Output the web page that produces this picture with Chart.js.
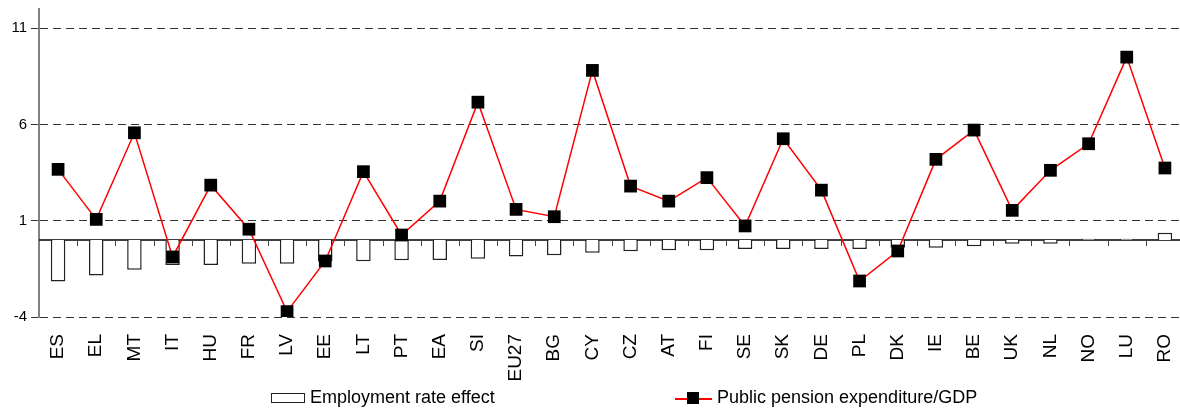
<!DOCTYPE html>
<html>
<head>
<meta charset="utf-8">
<script src="https://cdn.jsdelivr.net/npm/chart.js@4"></script>
<style>
  html, body { margin: 0; padding: 0; background: #fff; overflow: hidden; }
  #wrap { position: relative; width: 1193px; height: 409px; }
  #legend { position: absolute; left: 0; top: 0; width: 1180px; height: 409px; pointer-events: none;
            font-family: 'Liberation Sans', Arial, sans-serif; font-size: 18px; color: #000; }
  .lg { position: absolute; }
</style>
</head>
<body>
<div id="wrap">
  <canvas id="chart"></canvas>
  <div id="legend">
    <div class="lg" style="left:271px; top:393px; width:32px; height:8px; border:1px solid #222; background:#fff;"></div>
    <div class="lg" style="left:310px; top:387px;">Employment rate effect</div>
    <div class="lg" style="left:675px; top:398px; width:37px; height:1.5px; background:#ff0000;"></div>
    <div class="lg" style="left:687px; top:392px; width:12px; height:12px; background:#000;"></div>
    <div class="lg" style="left:717px; top:387px;">Public pension expenditure/GDP</div>
  </div>
</div>
<script>
// Country codes along the x axis
const categories = ['ES', 'EL', 'MT', 'IT', 'HU', 'FR', 'LV', 'EE', 'LT', 'PT', 'EA', 'SI', 'EU27', 'BG', 'CY',
                    'CZ', 'AT', 'FI', 'SE', 'SK', 'DE', 'PL', 'DK', 'IE', 'BE', 'UK', 'NL', 'NO', 'LU', 'RO'];

// Employment rate effect (bars)
const employmentEffect = [-2.16, -1.85, -1.54, -1.3, -1.3, -1.23, -1.23, -1.12, -1.1, -1.05, -1.04, -0.97, -0.86, -0.79, -0.66,
                          -0.59, -0.53, -0.53, -0.47, -0.47, -0.47, -0.47, -0.4, -0.4, -0.33, -0.2, -0.2, 0.06, 0.06, 0.38];

// Public pension expenditure/GDP (line with markers)
const pensionExpenditure = [3.67, 1.07, 5.57, -0.88, 2.85, 0.56, -3.72, -1.09, 3.55, 0.26, 2.02, 7.16, 1.59, 1.21, 8.81,
                            2.8, 2.02, 3.24, 0.73, 5.26, 2.59, -2.13, -0.57, 4.19, 5.71, 1.54, 3.62, 5.0, 9.5, 3.74];

// Y axis tick labels
const yTicks = [-4, 1, 6, 11];

const fontFamily = "'Liberation Sans', Arial, sans-serif";

// Draws the solid zero line and the small category ticks hanging from it
const zeroAxis = {
    id: 'zeroAxis',
    beforeDatasetsDraw(chart) {
        const ctx = chart.ctx;
        const x = chart.scales.x;
        const y0 = chart.scales.y.getPixelForValue(0);
        const area = chart.chartArea;
        ctx.save();
        ctx.strokeStyle = '#000';
        ctx.lineWidth = 1.5;
        ctx.beginPath();
        ctx.moveTo(area.left, y0);
        ctx.lineTo(area.right, y0);
        ctx.stroke();
        ctx.strokeStyle = '#444';
        ctx.lineWidth = 1;
        const half = (x.getPixelForValue(1) - x.getPixelForValue(0)) / 2;
        for (let i = 0; i < categories.length - 1; i++) {
            const px = Math.round(x.getPixelForValue(i) + half) + 0.5;
            ctx.beginPath();
            ctx.moveTo(px, y0);
            ctx.lineTo(px, y0 + 6);
            ctx.stroke();
        }
        ctx.restore();
    }
};

const ctx = document.getElementById('chart').getContext('2d');
new Chart(ctx, {
    type: 'bar',
    data: {
        labels: categories,
        datasets: [
            {
                type: 'line',
                label: 'Public pension expenditure/GDP',
                data: pensionExpenditure,
                borderColor: '#ff0000',
                borderWidth: 1.5,
                pointStyle: 'rect',
                pointRadius: 9,
                pointBackgroundColor: '#000',
                pointBorderColor: '#000',
                pointBorderWidth: 0,
                tension: 0,
                order: 0
            },
            {
                type: 'bar',
                label: 'Employment rate effect',
                data: employmentEffect,
                backgroundColor: '#fff',
                borderColor: '#222',
                borderWidth: 1.5,
                barPercentage: 0.76,
                categoryPercentage: 0.5,
                order: 1
            }
        ]
    },
    options: {
        responsive: true,
        maintainAspectRatio: false,
        animation: false,
        layout: { padding: { top: 9, right: 0, left: 0, bottom: 0 } },
        plugins: {
            legend: { display: false },
            tooltip: { enabled: false }
        },
        scales: {
            x: {
                offset: true,
                grid: { display: false, drawTicks: false },
                border: { display: false },
                ticks: {
                    minRotation: 90,
                    maxRotation: 90,
                    autoSkip: false,
                    padding: 17,
                    color: '#000',
                    font: { family: fontFamily, size: 19 }
                },
                afterFit(scale) {
                    scale.height = 92;
                    scale.paddingLeft = 0;
                    scale.paddingRight = 0;
                }
            },
            y: {
                min: -4,
                max: 12,
                afterBuildTicks(scale) { scale.ticks = yTicks.map(v => ({ value: v })); },
                grid: {
                    color: '#333',
                    lineWidth: 1,
                    tickLength: 8,
                    tickColor: '#333',
                    tickBorderDash: []
                },
                border: { display: true, color: '#808080', width: 2, dash: [8, 5] },
                ticks: {
                    padding: 4,
                    color: '#000',
                    font: { family: fontFamily, size: 15 }
                },
                afterFit(scale) {
                    scale.width = 39;
                    scale.paddingTop = 0;
                    scale.paddingBottom = 0;
                }
            }
        }
    },
    plugins: [zeroAxis]
});
</script>
</body>
</html>
